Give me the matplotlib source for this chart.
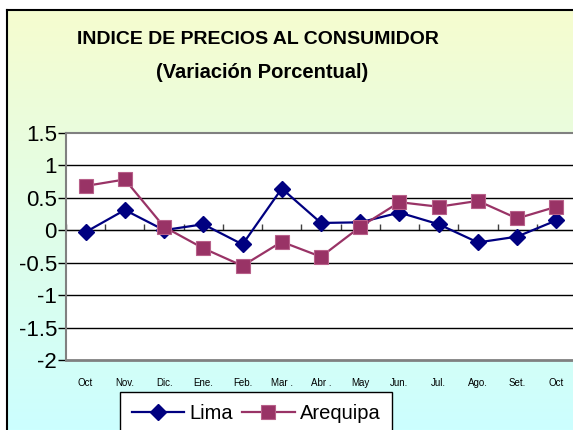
import numpy as np
import matplotlib
matplotlib.use("Agg")
import matplotlib.pyplot as plt
from matplotlib.colors import LinearSegmentedColormap

months = ["Oct", "Nov.", "Dic.", "Ene.", "Feb.", "Mar .", "Abr .", "May",
          "Jun.", "Jul.", "Ago.", "Set.", "Oct"]
lima = [-0.03, 0.31, 0.0, 0.09, -0.22, 0.64, 0.11, 0.12, 0.27, 0.09, -0.19, -0.10, 0.15]
arequipa = [0.68, 0.78, 0.05, -0.28, -0.55, -0.18, -0.41, 0.05, 0.43, 0.36, 0.45, 0.18, 0.36]
yticks = [1.5, 1, 0.5, 0, -0.5, -1, -1.5, -2]
ylabels = ["1.5", "1", "0.5", "0", "-0.5", "-1", "-1.5", "-2"]

plt.rcParams['font.family'] = ['Liberation Sans', 'DejaVu Sans']

W, H = 573, 430
fig = plt.figure(figsize=(W / 100, H / 100), dpi=100)

# gradient background with black frame (top/left visible)
bg = fig.add_axes([7 / W, 0, 1 - 7 / W, 1 - 10 / H])
cmap = LinearSegmentedColormap.from_list("bg", ["#F6FCCF", "#CCFFFF"])
bg.imshow(np.linspace(0, 1, 256).reshape(-1, 1), aspect='auto', cmap=cmap,
          extent=[0, 1, 0, 1])
bg.set_xticks([])
bg.set_yticks([])
for side in ["right", "bottom"]:
    bg.spines[side].set_visible(False)
for side in ["left", "top"]:
    bg.spines[side].set_linewidth(1.5)
    bg.spines[side].set_color("black")

fig.text(258 / W, 1 - 40 / H, "INDICE DE PRECIOS AL CONSUMIDOR", ha='center',
         va='center', fontsize=14, fontweight='bold')
fig.text(262 / W, 1 - 72 / H, "(Variación Porcentual)", ha='center',
         va='center', fontsize=14.5, fontweight='bold')

left, right, top, bottom = 66, 576, 132.7, 360
ax = fig.add_axes([left / W, 1 - bottom / H, (right - left) / W, (bottom - top) / H])
ax.set_facecolor("white")

x = np.arange(len(months))
ax.plot(x, lima, color="#000080", lw=1.6, marker='D', markersize=8,
        markerfacecolor="#000080", markeredgecolor="#000080", label="Lima", zorder=3)
ax.plot(x, arequipa, color="#993366", lw=1.6, marker='s', markersize=10,
        markerfacecolor="#993366", markeredgecolor="#B8608A", markeredgewidth=0.8,
        label="Arequipa", zorder=3)

ax.set_xlim(-0.5, len(months) - 0.5)
ax.set_ylim(-2, 1.5)
ax.set_yticks(yticks)
ax.set_yticklabels(ylabels, fontsize=16)
ax.tick_params(axis='y', length=6, width=1, color="black", pad=0.5)
ax.set_xticks(x)
ax.set_xticklabels(months, fontsize=7)
ax.tick_params(axis='x', length=0, pad=13)

for yv in [1, 0.5, 0, -0.5, -1, -1.5]:
    ax.axhline(yv, color="black", lw=1, zorder=1)

for side in ["top", "left"]:
    ax.spines[side].set_color("#808080")
    ax.spines[side].set_linewidth(1.5)
ax.spines["bottom"].set_color("#808080")
ax.spines["bottom"].set_linewidth(2)
ax.spines["right"].set_visible(False)

# category tick marks on the zero line
sec = ax.secondary_xaxis(2 / 3.5)
sec.set_xticks(np.arange(-0.5, len(months), 1))
sec.set_xticklabels([])
sec.tick_params(axis='x', length=4, width=1, color="#404040")
sec.spines["bottom"].set_visible(False)

leg = fig.legend(loc='upper left', bbox_to_anchor=(120 / W, 1 - 392 / H),
                 ncol=2, fontsize=14.5, frameon=True, fancybox=False,
                 edgecolor="black", facecolor="white", framealpha=1,
                 handlelength=2.6, columnspacing=0.45, handletextpad=0.25,
                 borderpad=0.6, borderaxespad=0)
leg.get_frame().set_linewidth(1)

fig.savefig("out.png", dpi=100)
